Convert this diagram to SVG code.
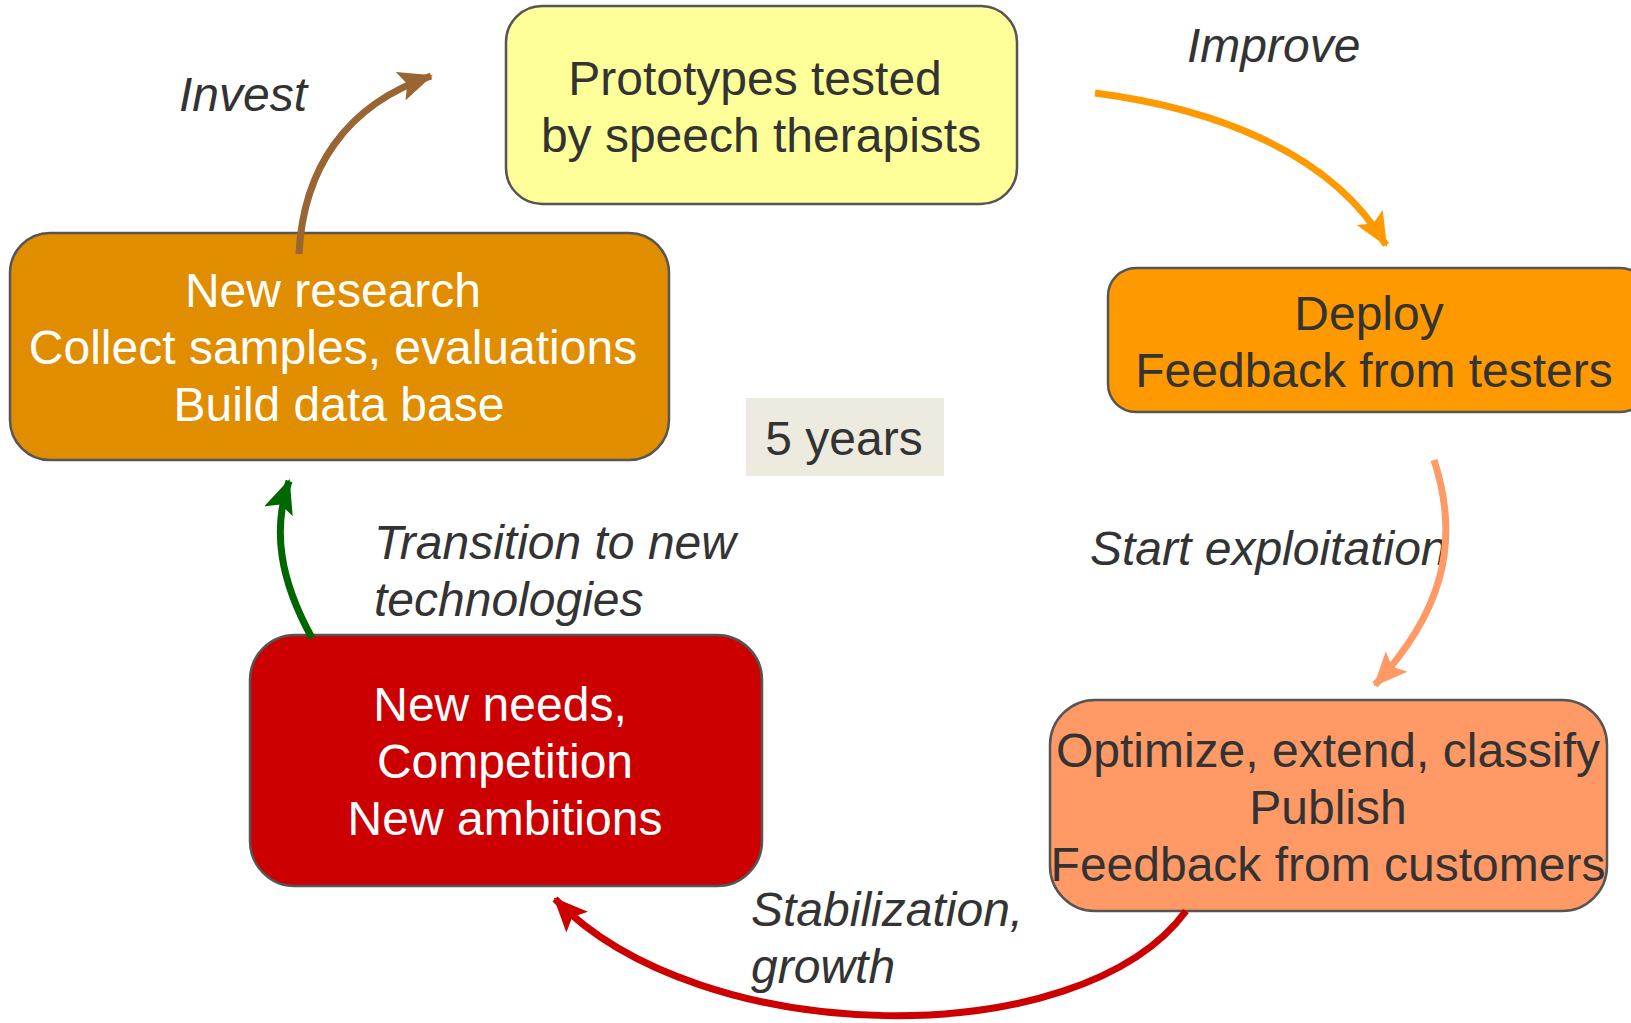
<svg xmlns="http://www.w3.org/2000/svg" width="1631" height="1023" viewBox="0 0 1631 1023">
<style>
.box{stroke:#555555;stroke-width:2.5}
.t{font-family:"Liberation Sans",Arial,sans-serif;font-size:48px;text-anchor:middle}
.dk{fill:#333333}
.wh{fill:#ffffff}
.lbl{font-family:"Liberation Sans",Arial,sans-serif;font-size:48px;font-style:italic;fill:#333333}
.c{fill:none;stroke-width:7}
</style>
<defs>
<marker id="mBrown" markerUnits="userSpaceOnUse" markerWidth="36" markerHeight="30" refX="32" refY="15" orient="auto"><path d="M0,0 L34,15 L0,30 L7,15 z" fill="#996633"/></marker>
<marker id="mOrange" markerUnits="userSpaceOnUse" markerWidth="36" markerHeight="30" refX="32" refY="15" orient="auto"><path d="M0,0 L34,15 L0,30 L7,15 z" fill="#FF9900"/></marker>
<marker id="mSalmon" markerUnits="userSpaceOnUse" markerWidth="36" markerHeight="30" refX="32" refY="15" orient="auto"><path d="M0,0 L34,15 L0,30 L7,15 z" fill="#FF9966"/></marker>
<marker id="mRed" markerUnits="userSpaceOnUse" markerWidth="36" markerHeight="30" refX="32" refY="15" orient="auto"><path d="M0,0 L34,15 L0,30 L7,15 z" fill="#CC0000"/></marker>
<marker id="mGreen" markerUnits="userSpaceOnUse" markerWidth="36" markerHeight="30" refX="32" refY="15" orient="auto"><path d="M0,0 L34,15 L0,30 L7,15 z" fill="#006600"/></marker>
</defs>
<rect width="1631" height="1023" fill="#ffffff"/>
<g id="node-prototypes">
<rect class="box" x="506" y="6" width="511" height="198" rx="36" fill="#FFFF99"/>
<text class="t dk" x="755" y="95">Prototypes tested</text>
<text class="t dk" x="761" y="152">by speech therapists</text>
</g>
<g id="node-research">
<rect class="box" x="10" y="233" width="659" height="227" rx="40" fill="#E08E00"/>
<text class="t wh" x="333" y="307">New research</text>
<text class="t wh" x="333" y="364">Collect samples, evaluations</text>
<text class="t wh" x="339" y="421">Build data base</text>
</g>
<g id="node-deploy">
<rect class="box" x="1108" y="268" width="540" height="144" rx="28" fill="#FF9900"/>
<text class="t dk" x="1369" y="330">Deploy</text>
<text class="t dk" x="1374" y="387">Feedback from testers</text>
</g>
<g id="node-optimize">
<rect class="box" x="1050" y="700" width="557" height="211" rx="45" fill="#FF9966"/>
<text class="t dk" x="1328" y="767">Optimize, extend, classify</text>
<text class="t dk" x="1328" y="824">Publish</text>
<text class="t dk" x="1328" y="881">Feedback from customers</text>
</g>
<g id="node-needs">
<rect class="box" x="250" y="635" width="512" height="251" rx="45" fill="#CC0000"/>
<text class="t wh" x="500" y="721">New needs,</text>
<text class="t wh" x="505" y="778">Competition</text>
<text class="t wh" x="505" y="835">New ambitions</text>
</g>
<g id="node-years">
<rect x="746" y="398" width="198" height="78" fill="#EDEAE0"/>
<text class="t dk" x="844" y="455">5 years</text>
</g>
<g id="labels">
<text class="lbl" x="179" y="111">Invest</text>
<text class="lbl" x="1187" y="62">Improve</text>
<text class="lbl" x="1090" y="565">Start exploitation</text>
<text class="lbl" x="374" y="559">Transition to new</text>
<text class="lbl" x="374" y="616">technologies</text>
<text class="lbl" x="751" y="926">Stabilization,</text>
<text class="lbl" x="751" y="983">growth</text>
</g>
<g id="connectors">
<path class="c" stroke="#996633" d="M299,254 C303,170 345,105 431,76" marker-end="url(#mBrown)"/>
<path class="c" stroke="#FF9900" d="M1095,93 C1210,108 1330,150 1386,245" marker-end="url(#mOrange)"/>
<path class="c" stroke="#FF9966" d="M1434,460 C1462,545 1440,615 1375,685" marker-end="url(#mSalmon)"/>
<path class="c" stroke="#CC0000" d="M1186,911 C1080,1055 700,1050 555,899" marker-end="url(#mRed)"/>
<path class="c" stroke="#006600" d="M312,638 C280,580 272,530 289,481" marker-end="url(#mGreen)"/>
</g>
</svg>
